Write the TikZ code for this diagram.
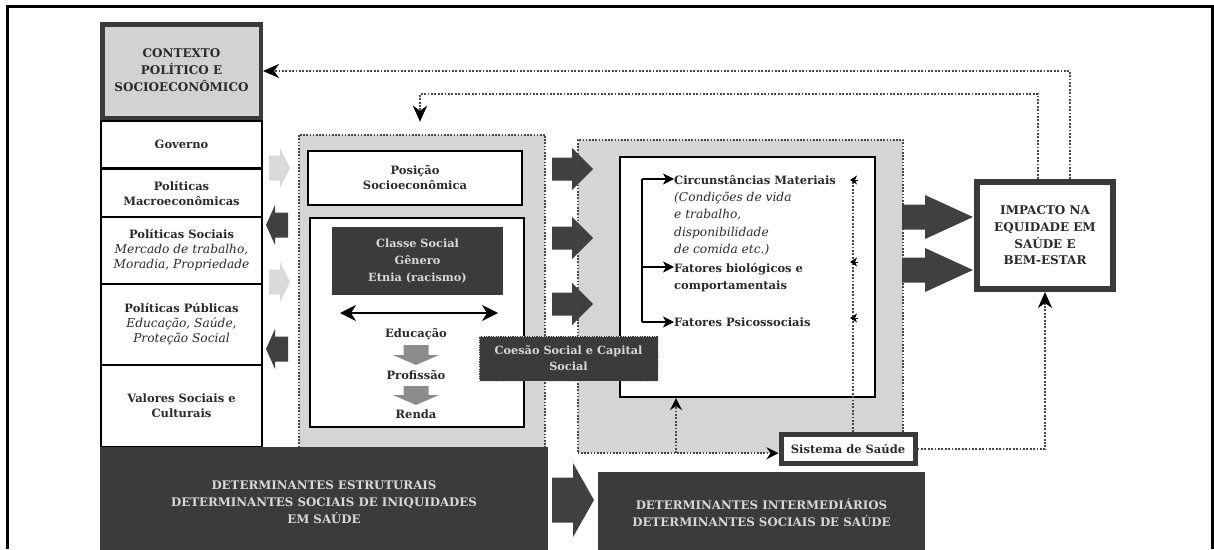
\documentclass[tikz,border=0pt]{standalone}
\usepackage{fontspec}
\setmainfont{DejaVu Serif}
\usetikzlibrary{arrows.meta}
\definecolor{darkbox}{HTML}{3B3B3B}
\definecolor{regiongray}{HTML}{D5D5D5}
\definecolor{ctxgray}{HTML}{D2D2D2}
\definecolor{lightarrow}{HTML}{DADADA}
\definecolor{midarrow}{HTML}{8C8C8C}
\definecolor{darkarrow}{HTML}{404040}
\definecolor{boxtext}{HTML}{D8D8D8}
\definecolor{dotcol}{HTML}{474747}
\definecolor{txt}{HTML}{2A2A2A}
\definecolor{thickborder}{HTML}{3A3A3A}
\newcommand{\blockH}[7]{\fill[#1] (#2,#5-#6) -- (#3,#5-#6) -- (#3,#5-#7) -- (#4,#5) -- (#3,#5+#7) -- (#3,#5+#6) -- (#2,#5+#6) -- cycle;}
\newcommand{\blockV}[7]{\fill[#1] (#5-#6,#2) -- (#5-#6,#3) -- (#5-#7,#3) -- (#5,#4) -- (#5+#7,#3) -- (#5+#6,#3) -- (#5+#6,#2) -- cycle;}
\newcommand{\itl}[1]{\textit{\mdseries\fontsize{12.2}{15}\selectfont #1}}
\tikzset{
  lbl/.style={font=\fontsize{11.5}{15}\selectfont\bfseries, text=txt, align=center, inner sep=0pt},
  uplbl/.style={font=\fontsize{12}{16.7}\selectfont\bfseries, text=txt, align=center, inner sep=0pt},
  colbox/.style={draw=black, line width=2.3pt, fill=white, minimum width=161pt, lbl},
  whitebox/.style={draw=black, line width=2.2pt, fill=white, inner sep=0pt},
  darkfill/.style={fill=darkbox, inner sep=0pt, text=boxtext, align=center},
  capsbox/.style={darkfill, font=\fontsize{11.8}{17.3}\selectfont\bfseries},
  thickbox/.style={draw=thickborder, fill=white},
  dotline/.style={draw=dotcol, line width=2.4pt, dash pattern=on 1.9pt off 1.5pt},
  regionline/.style={draw=dotcol, line width=1.9pt, dash pattern=on 1.6pt off 1.6pt},
  bigtip/.style={-{Stealth[length=16pt,width=14pt,inset=5pt,black]}},
  smalltip/.style={-{Stealth[length=12pt,width=12pt,inset=4pt,black]}},
  minitip/.style={-{Stealth[length=7pt,width=9pt,inset=2pt]}, draw=black, line width=0.8pt},
  brk/.style={draw=black, line width=1.4pt},
  brktip/.style={brk, -{Stealth[length=11pt,width=11pt,inset=3pt]}},
  factor/.style={font=\fontsize{11.5}{17.2}\selectfont\bfseries, text=txt, align=left, inner sep=0pt},
}
\begin{document}
\begin{tikzpicture}[x=1pt,y=-1pt]
\useasboundingbox (0,0) rectangle (1214,549);
\fill[white] (0,0) rectangle (1214,549);
% outer frame
\draw[line width=3pt] (7,549) -- (7,6) -- (1212,6) -- (1212,549);

% ---- regions
\node[fill=regiongray, minimum width=246pt, minimum height=312pt, inner sep=0pt] (midgray) at (422,291) {};
\draw[regionline] (midgray.south west) -- (midgray.north west) -- (midgray.north east) -- (midgray.south east);
\node[fill=regiongray, minimum width=325pt, minimum height=313pt, inner sep=0pt] (intgray) at (740.5,296.5) {};

% ---- left column
\node[colbox, minimum height=47pt] (gov) at (181.5,144.5) {Governo};
\node[colbox, minimum height=48pt] (macro) at (181.5,193) {Políticas\\Macroeconômicas};
\node[colbox, minimum height=67pt] (soc) at (181.5,250.5) {Políticas Sociais\\\itl{Mercado de trabalho,}\\\itl{Moradia, Propriedade}};
\node[colbox, minimum height=81pt] (pub) at (181.5,324.5) {Políticas Públicas\\\itl{Educação, Saúde,}\\\itl{Proteção Social}};
\node[colbox, minimum height=82pt] (val) at (181.5,406) {Valores Sociais e\\Culturais};
\node[thickbox, uplbl, fill=ctxgray, line width=4.5pt, minimum width=158.5pt, minimum height=93.5pt] (ctx) at (181.5,71) {\raisebox{-5pt}{\begin{tabular}{@{}c@{}}CONTEXTO\\POLÍTICO E\\SOCIOECONÔMICO\end{tabular}}};

% left small arrows
\blockH{lightarrow}{269}{280}{290}{168}{12.5}{20}
\blockH{darkarrow}{288}{275}{266}{225}{12.5}{20}
\blockH{lightarrow}{269}{280}{290}{282}{12.5}{20}
\blockH{darkarrow}{288}{275}{266}{349}{12.5}{20}

% ---- structural middle
\node[whitebox, lbl, minimum width=214pt, minimum height=54pt] (pos) at (415,178) {Posição\\Socioeconômica};
\node[whitebox, minimum width=214pt, minimum height=209pt] (classbox) at (417,322.5) {};
\node[darkfill, minimum width=171pt, minimum height=68pt, font=\fontsize{11.3}{16.8}\selectfont\bfseries] (classe) at (417.5,261) {Classe Social\\Gênero\\Etnia (racismo)};
\coordinate (dl) at (340,313);
\coordinate (dr) at (498,313);
\draw[line width=1.8pt, {Stealth[length=16pt,width=16pt,inset=5pt]}-{Stealth[length=16pt,width=16pt,inset=5pt]}] (dl) -- (dr);
\node[lbl] (educ) at (416,334) {Educação};
\node[lbl] (prof) at (416,375) {Profissão};
\node[lbl] (renda) at (416,414) {Renda};
\blockV{midarrow}{345}{355}{365}{416}{12.5}{23}
\blockV{midarrow}{386}{395}{405}{416}{12.5}{23}

% middle big arrows
\blockH{darkarrow}{552}{572}{593}{169}{11.5}{21}
\blockH{darkarrow}{552}{572}{593}{238}{11.5}{21}
\blockH{darkarrow}{552}{572}{593}{304}{11.5}{21}

% ---- intermediate
\node[whitebox, minimum width=255pt, minimum height=240pt] (iwhite) at (747.5,277) {};
\node[thickbox, lbl, line width=5pt, minimum width=134pt, minimum height=29pt] (sis) at (848,449) {Sistema de Saúde};
\draw[regionline] (sis.north -| intgray.east) -- (intgray.north east) -- (intgray.north west) -- (intgray.south west);
\draw[regionline, smalltip] (intgray.south west) -- (intgray.south west -| sis.west);

\node[factor, anchor=north west] (circ) at (674,175) {Circunstâncias Materiais\\
  \itl{(Condições de vida}\\
  \itl{e trabalho,}\\
  \itl{disponibilidade}\\
  \itl{de comida etc.)}};
\node[factor, anchor=north west] (bio) at (674,263) {Fatores biológicos e\\comportamentais};
\node[factor, anchor=west] (psi) at (674,322) {Fatores Psicossociais};

% bracket
\coordinate (bt) at (642,179);
\coordinate (bm) at (642,267);
\coordinate (bb) at (642,322);
\draw[brk] (bt) -- (bb);
\draw[brktip] (bt) -- (bt -| circ.west);
\draw[brktip] (bm) -- (bm -| bio.west);
\draw[brktip] (bb) -- (psi.west);

% dotted feedback from health system
\coordinate (vt) at (853,178);
\draw[dotline] (sis.north -| vt) -- (vt);
\foreach \yy in {180,262,318} {\draw[minitip] (858,\yy) -- (850,\yy);}
\draw[dotline, smalltip] (intgray.south -| 676,0) -- (iwhite.south -| 676,0);

% Impacto
\node[thickbox, uplbl, line width=6pt, minimum width=136pt, minimum height=107pt] (imp) at (1045,235.5) {IMPACTO NA\\EQUIDADE EM\\SAÚDE E\\BEM-ESTAR};
\blockH{darkarrow}{902}{925}{973}{217}{12.5}{22}
\blockH{darkarrow}{902}{925}{973}{270}{12.5}{22}
\draw[dotline, bigtip] (sis.east) -| (imp.south);
\draw[dotline, bigtip] ([xshift=25pt]imp.north) |- (ctx.east);
\coordinate (c2) at (420,94);
\draw[dotline, bigtip] ([xshift=-7pt]imp.north) |- (c2) -- ([yshift=13pt]c2 |- midgray.north);

% Coesao
\node[darkfill, draw=boxtext, line width=1pt, dash pattern=on 1.2pt off 1.2pt, minimum width=179pt, minimum height=45pt, font=\fontsize{11.3}{16}\selectfont\bfseries] (coes) at (568.5,358.5) {Coesão Social e Capital\\Social};

% bottom
\node[capsbox, minimum width=448pt, minimum height=110pt] (dark1) at (324,502) {DETERMINANTES ESTRUTURAIS\\DETERMINANTES SOCIAIS DE INIQUIDADES\\EM SAÚDE};
\node[capsbox, minimum width=327pt, minimum height=81pt] (dark2) at (761.5,512.5) {DETERMINANTES INTERMEDIÁRIOS\\DETERMINANTES SOCIAIS DE SAÚDE};
\blockH{darkarrow}{552}{573}{594}{500}{22.5}{37}
\end{tikzpicture}
\end{document}
